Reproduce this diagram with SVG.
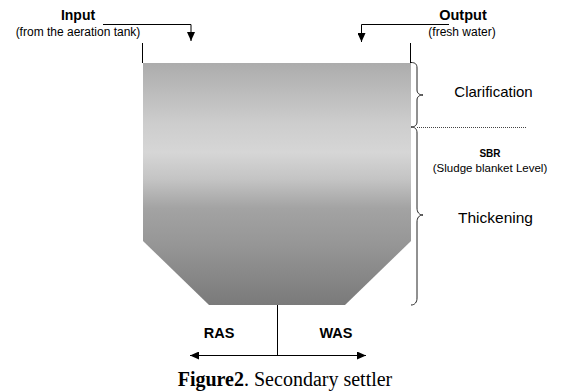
<svg xmlns="http://www.w3.org/2000/svg" width="570" height="391" viewBox="0 0 570 391">
<style>
.s{font-family:"Liberation Sans",Arial,sans-serif;fill:#000}
.b{font-weight:bold}
.ln{stroke:#000;stroke-width:1;fill:none}
.br{stroke:#222;stroke-width:1;fill:none}
</style>
<defs>
<linearGradient id="g" gradientUnits="userSpaceOnUse" x1="0" y1="63" x2="0" y2="305">
<stop offset="0" stop-color="#acacac"/>
<stop offset="0.25" stop-color="#cdcdcd"/>
<stop offset="0.37" stop-color="#d6d6d6"/>
<stop offset="0.48" stop-color="#c4c4c4"/>
<stop offset="0.6" stop-color="#a3a3a3"/>
<stop offset="0.75" stop-color="#969696"/>
<stop offset="1" stop-color="#7a7a7a"/>
</linearGradient>
<marker id="ah" markerWidth="10" markerHeight="8" refX="9" refY="4" orient="auto" markerUnits="userSpaceOnUse">
<path d="M0,0 L9,4 L0,8 Z" fill="#000"/>
</marker>
</defs>
<rect width="570" height="391" fill="#fff"/>
<g id="tank">
<polygon points="143,63 411,63 411,241 345,305 209,305 143,241" fill="url(#g)"/>
<line class="ln" x1="142.5" y1="43" x2="142.5" y2="63"/>
<line class="ln" x1="410.5" y1="43" x2="410.5" y2="63"/>
</g>
<g id="connectors">
<polyline class="ln" points="103,24.5 191,24.5 191,41" marker-end="url(#ah)"/>
<polyline class="ln" points="449,24.5 361.5,24.5 361.5,42" marker-end="url(#ah)"/>
<line class="ln" x1="277.5" y1="305" x2="277.5" y2="355.5"/>
<line class="ln" x1="277" y1="355.5" x2="190" y2="355.5" marker-end="url(#ah)"/>
<line class="ln" x1="277" y1="355.5" x2="366" y2="355.5" marker-end="url(#ah)"/>
</g>
<g id="input">
<text class="s b" x="78" y="19.5" font-size="14" text-anchor="middle">Input</text>
<text class="s" x="78" y="36" font-size="12" text-anchor="middle">(from the aeration tank)</text>
</g>
<g id="output">
<text class="s b" x="463" y="19.5" font-size="14.5" text-anchor="middle">Output</text>
<text class="s" x="462" y="36" font-size="12" text-anchor="middle">(fresh water)</text>
</g>
<g id="clarification">
<path class="br" d="M411,62.5 C415,62.5 417,64 417,68 L417,90 C417,93 419,95 423,95 C419,95 417,97 417,100 L417,122 C417,125 415,127 411,127"/>
<text class="s" x="493.5" y="97" font-size="15" text-anchor="middle">Clarification</text>
</g>
<g id="sbr">
<line x1="417" y1="127.5" x2="526" y2="127.5" stroke="#444" stroke-width="1" stroke-dasharray="1,1"/>
<text class="s b" x="490" y="157" font-size="10" text-anchor="middle">SBR</text>
<text class="s" x="490" y="172" font-size="11.5" text-anchor="middle">(Sludge blanket Level)</text>
</g>
<g id="thickening">
<path class="br" d="M411,127 C415,127 417,129 417,133 L417,208 C417,212 419,215 423,215 C419,215 417,218 417,222 L417,298 C417,302 415,305 411,305"/>
<text class="s" x="495.5" y="223" font-size="15.5" text-anchor="middle">Thickening</text>
</g>
<g id="ras">
<text class="s b" x="219" y="338" font-size="14.5" text-anchor="middle">RAS</text>
</g>
<g id="was">
<text class="s b" x="336" y="338" font-size="14.5" text-anchor="middle">WAS</text>
</g>
<g id="caption">
<text x="285" y="386" font-family="'Liberation Serif','Times New Roman',serif" font-size="20" text-anchor="middle"><tspan font-weight="bold">Figure2</tspan>. Secondary settler</text>
</g>
</svg>
